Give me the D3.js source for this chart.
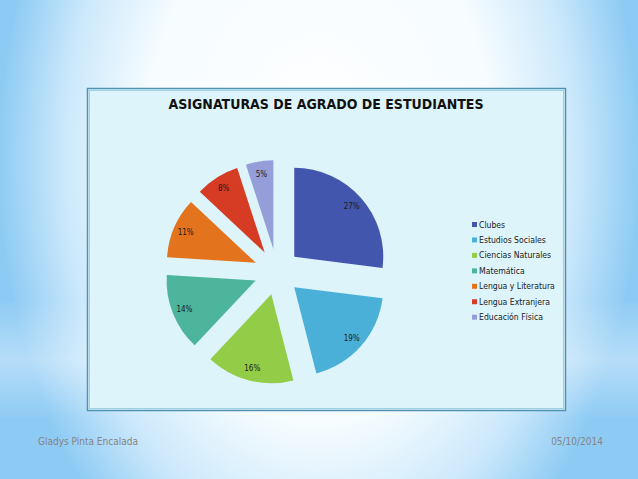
<!DOCTYPE html>
<html lang="es">
<head>
  <meta charset="UTF-8">
  <title>Asignaturas de agrado de estudiantes</title>
  <script src="https://d3js.org/d3.v7.min.js"></script>
  <style>
    body { margin: 0; overflow: hidden; }
    svg { display: block; }
  </style>
</head>
<body>
  <svg width="638" height="479"></svg>
  <script>
    const subjects = ["Clubes", "Estudios Sociales", "Ciencias Naturales", "Matemática",
      "Lengua y Literatura", "Lengua Extranjera", "Educación Física"];
    const percents = [27, 19, 16, 14, 11, 8, 5];
    const colors = ["#4356ae", "#4bb0d8", "#93cc46", "#4db59b", "#e4731e", "#d53c23", "#959ed8"];
    const title = "ASIGNATURAS DE AGRADO DE ESTUDIANTES";
    const author = "Gladys Pinta Encalada";
    const date = "05/10/2014";

    const svg = d3.select("svg");
    const W = 638, H = 479;

    // fondo de la diapositiva
    const defs = svg.append("defs");
    const bg = defs.append("radialGradient").attr("id", "bg")
      .attr("gradientUnits", "userSpaceOnUse")
      .attr("cx", 319).attr("cy", 160).attr("r", 320)
      .attr("gradientTransform", "translate(0,160) scale(1,1.5) translate(0,-160)");
    bg.append("stop").attr("offset", "0%").attr("stop-color", "#ffffff");
    bg.append("stop").attr("offset", "55%").attr("stop-color", "#f6fcff");
    bg.append("stop").attr("offset", "80%").attr("stop-color", "#cbe8fb");
    bg.append("stop").attr("offset", "100%").attr("stop-color", "#8ecbf4");
    svg.append("rect").attr("width", W).attr("height", H).attr("fill", "url(#bg)");

    const band = defs.append("linearGradient").attr("id", "band")
      .attr("x1", 0).attr("y1", 0).attr("x2", 0).attr("y2", 1);
    band.append("stop").attr("offset", "0%").attr("stop-color", "#ffffff").attr("stop-opacity", 0);
    band.append("stop").attr("offset", "50%").attr("stop-color", "#ffffff").attr("stop-opacity", 0.35);
    band.append("stop").attr("offset", "100%").attr("stop-color", "#ffffff").attr("stop-opacity", 0);
    svg.append("rect").attr("x", 0).attr("y", 300).attr("width", W).attr("height", 120)
      .attr("fill", "url(#band)");

    // marco del gráfico
    svg.append("rect").attr("x", 87.5).attr("y", 88.5).attr("width", 478).attr("height", 322)
      .attr("fill", "#ddf4fb").attr("stroke", "#4f93b3").attr("stroke-width", 1.5);
    svg.append("rect").attr("x", 89.5).attr("y", 90.5).attr("width", 474).attr("height", 318)
      .attr("fill", "none").attr("stroke", "#9fd0e4").attr("stroke-width", 1);

    svg.append("text")
      .attr("x", 326).attr("y", 109)
      .attr("text-anchor", "middle")
      .attr("font-family", "'DejaVu Sans Condensed', 'DejaVu Sans', sans-serif")
      .attr("font-weight", "bold")
      .attr("font-size", 14)
      .attr("fill", "#111")
      .text(title);

    // pastel
    const cx = 277, cy = 272, r = 89, offset = 23;
    const pie = d3.pie().sort(null).value(d => d);
    const arcs = pie(percents);
    const arc = d3.arc().innerRadius(0).outerRadius(r);

    const slice = svg.append("g").attr("transform", `translate(${cx},${cy})`)
      .selectAll("g").data(arcs).join("g")
      .attr("transform", d => {
        const a = (d.startAngle + d.endAngle) / 2;
        return `translate(${Math.sin(a) * offset},${-Math.cos(a) * offset})`;
      });

    slice.append("path")
      .attr("d", arc)
      .attr("fill", (d, i) => colors[i]);

    slice.append("text")
      .attr("x", d => Math.sin((d.startAngle + d.endAngle) / 2) * r * 0.86)
      .attr("y", d => -Math.cos((d.startAngle + d.endAngle) / 2) * r * 0.86 + 3)
      .attr("text-anchor", "middle")
      .attr("font-family", "'DejaVu Sans Condensed', sans-serif")
      .attr("font-size", 8)
      .attr("fill", "#1a1a1a")
      .text(d => d.data + "%");

    // leyenda
    const legend = svg.append("g").attr("transform", "translate(472,225)")
      .selectAll("g").data(subjects).join("g")
      .attr("transform", (d, i) => `translate(0,${i * 15.45})`);
    legend.append("rect").attr("x", 0).attr("y", -3).attr("width", 5).attr("height", 5)
      .attr("fill", (d, i) => colors[i]);
    legend.append("text").attr("x", 7).attr("y", 2.5)
      .attr("font-family", "'DejaVu Sans Condensed', sans-serif")
      .attr("font-size", 8.6)
      .attr("fill", "#1a1a1a")
      .text(d => d);

    // pie de página
    svg.append("text").attr("x", 38).attr("y", 445)
      .attr("font-family", "'DejaVu Sans Condensed', sans-serif")
      .attr("font-size", 10).attr("fill", "#858585")
      .text(author);
    svg.append("text").attr("x", 603).attr("y", 445)
      .attr("text-anchor", "end")
      .attr("font-family", "'DejaVu Sans Condensed', sans-serif")
      .attr("font-size", 10).attr("fill", "#858585")
      .text(date);
  </script>
</body>
</html>
